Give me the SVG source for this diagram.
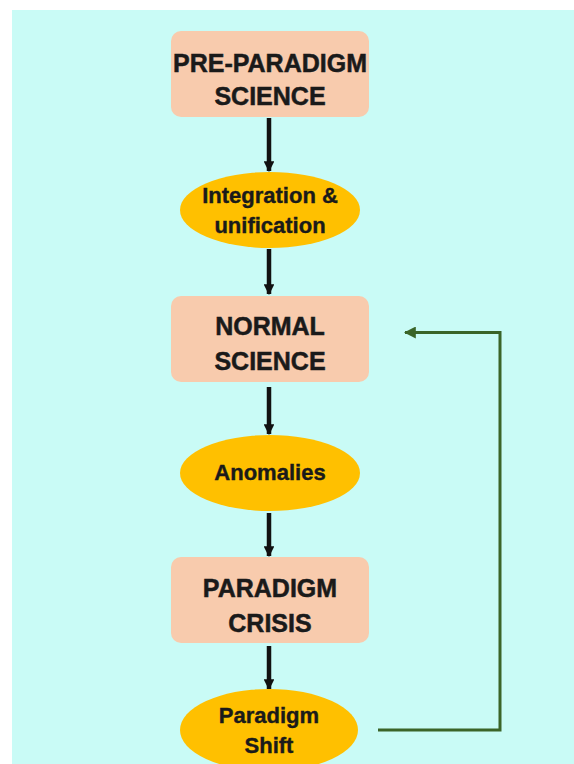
<svg xmlns="http://www.w3.org/2000/svg" width="574" height="764" viewBox="0 0 574 764">
<defs>
<style>
.box{fill:#F8CBAD;}
.ell{fill:#FFC000;}
.bt{font-family:"Liberation Sans",Arial,sans-serif;font-weight:bold;font-size:25px;fill:#1a1a1a;stroke:#1a1a1a;stroke-width:0.5;text-anchor:middle;}
.et{font-family:"Liberation Sans",Arial,sans-serif;font-weight:bold;font-size:22px;fill:#1a1a1a;stroke:#1a1a1a;stroke-width:0.4;text-anchor:middle;}
.flow{stroke:#111;stroke-width:4.5;fill:none;}
.loop{stroke:#3A6428;stroke-width:3;fill:none;}
</style>
<marker id="ah" viewBox="0 0 10 10" refX="9" refY="5" markerWidth="2.4" markerHeight="2.4" orient="auto" markerUnits="strokeWidth">
<path d="M0,0 L10,5 L0,10 z" fill="#111"/>
</marker>
<marker id="gh" viewBox="0 0 10 10" refX="9" refY="5" markerWidth="4" markerHeight="4" orient="auto" markerUnits="strokeWidth">
<path d="M0,0 L10,5 L0,10 z" fill="#3A6428"/>
</marker>
</defs>
<rect x="0" y="0" width="574" height="764" fill="#ffffff"/>
<rect x="12" y="10" width="562" height="754" fill="#C9FBF6"/>

<g id="connectors">
<line class="flow" x1="269" y1="118" x2="269" y2="171" marker-end="url(#ah)"/>
<line class="flow" x1="269" y1="249" x2="269" y2="294" marker-end="url(#ah)"/>
<line class="flow" x1="269" y1="387" x2="269" y2="434" marker-end="url(#ah)"/>
<line class="flow" x1="269" y1="513" x2="269" y2="556" marker-end="url(#ah)"/>
<line class="flow" x1="269" y1="646" x2="269" y2="689" marker-end="url(#ah)"/>
<polyline class="loop" points="378,730 500,730 500,332.5 405,332.5" marker-end="url(#gh)"/>
</g>

<g id="pre-paradigm">
<rect class="box" x="171" y="31" width="198" height="86" rx="10"/>
<text class="bt" x="270" y="72">PRE-PARADIGM</text>
<text class="bt" x="270" y="105">SCIENCE</text>
</g>

<g id="integration">
<ellipse class="ell" cx="270" cy="210" rx="90" ry="38"/>
<text class="et" x="270" y="203">Integration &amp;</text>
<text class="et" x="270" y="233">unification</text>
</g>

<g id="normal-science">
<rect class="box" x="171" y="296" width="198" height="86" rx="10"/>
<text class="bt" x="270" y="335">NORMAL</text>
<text class="bt" x="270" y="370">SCIENCE</text>
</g>

<g id="anomalies">
<ellipse class="ell" cx="270" cy="473" rx="90" ry="38"/>
<text class="et" x="270" y="480">Anomalies</text>
</g>

<g id="paradigm-crisis">
<rect class="box" x="171" y="557" width="198" height="86" rx="10"/>
<text class="bt" x="270" y="597">PARADIGM</text>
<text class="bt" x="270" y="632">CRISIS</text>
</g>

<g id="paradigm-shift">
<ellipse class="ell" cx="269" cy="730" rx="89" ry="41"/>
<text class="et" x="269" y="723">Paradigm</text>
<text class="et" x="269" y="753">Shift</text>
</g>
</svg>
